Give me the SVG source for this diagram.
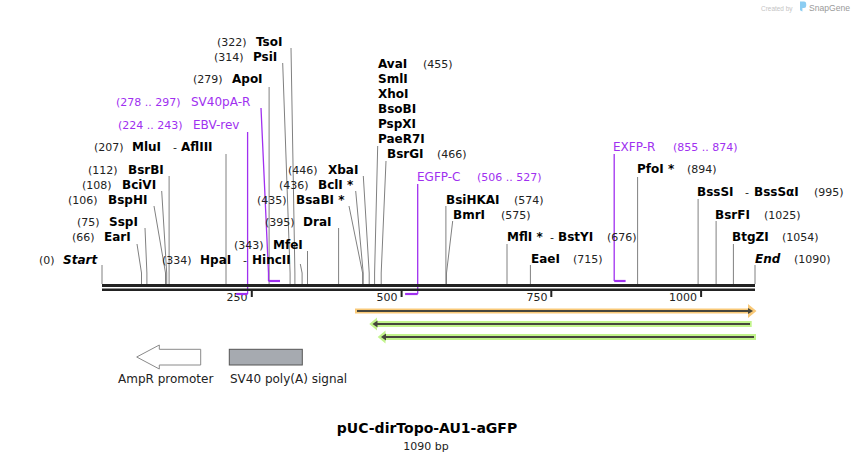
<svg xmlns="http://www.w3.org/2000/svg" width="858" height="460" viewBox="0 0 858 460">
<style>
text { font-family: "DejaVu Sans", Verdana, sans-serif; }
.n { font-size: 11px; fill: #222; font-weight: normal; }
.lg { font-size: 12px; fill: #222; }
.e { font-size: 12px; fill: #000; font-weight: bold; }
.i { font-size: 12px; fill: #000; font-weight: bold; font-style: italic; }
.p { font-size: 12px; fill: #A030F0; }
.pn { font-size: 11px; fill: #A030F0; }
.ln { fill: none; stroke: #808080; stroke-width: 1; }
.pl { fill: none; stroke: #A030F0; stroke-width: 1.3; }
.pb { fill: none; stroke: #A030F0; stroke-width: 2.2; }
.rul { fill: #222; }
.tk { font-size: 11px; fill: #222; text-anchor: end; }
.dk { fill: #46463c; }
</style>
<rect width="858" height="460" fill="#fff"/>

<g id="credit">
<text x="761" y="10.5" font-size="7.5" fill="#c4c4c4" textLength="31.5" lengthAdjust="spacingAndGlyphs" style="font-family:'Liberation Sans',Arial,sans-serif">Created by</text>
<path d="M800,1.5 h4 a2.2,2.2 0 0 1 2.2,2.2 v2 a2.2,2.2 0 0 1 -2.2,2.2 h-1.6 v3.6 l-2.4,-1.2 z" fill="#8ccdf2"/>
<text x="809" y="10.5" font-size="9" fill="#9a9a9a" textLength="41" lengthAdjust="spacingAndGlyphs" style="font-family:'Liberation Sans',Arial,sans-serif">SnapGene</text>
</g>

<g id="connectors">
<polyline class="ln" points="291,48 294.9,273 294.9,284"/>
<polyline class="ln" points="282.7,63 290.1,273 290.1,284"/>
<polyline class="ln" points="269.1,87 269.1,284"/>
<polyline class="ln" points="226,154 226,284"/>
<polyline class="ln" points="169.1,176 169.1,284"/>
<polyline class="ln" points="161.7,191 166.7,273 166.7,284"/>
<polyline class="ln" points="154,206 165.5,273 165.5,284"/>
<polyline class="ln" points="145,228 146.9,273 146.9,284"/>
<polyline class="ln" points="137,244 141.5,273 141.5,284"/>
<polyline class="ln" points="102,265 102,284"/>
<polyline class="ln" points="300.3,264 302.1,273 302.1,284"/>
<polyline class="ln" points="307.5,251 307.5,284"/>
<polyline class="ln" points="338.6,228 338.6,284"/>
<polyline class="ln" points="349,206 362.6,273 362.6,284"/>
<polyline class="ln" points="355.7,191 363.2,273 363.2,284"/>
<polyline class="ln" points="363.3,176 369.2,273 369.2,284"/>
<polyline class="ln" points="377.7,146 374.6,273 374.6,284"/>
<polyline class="ln" points="386,161 381.2,273 381.2,284"/>
<polyline class="ln" points="445.9,206 445.9,284"/>
<polyline class="ln" points="452.7,221 446.5,273 446.5,284"/>
<polyline class="ln" points="507,244 507,284"/>
<polyline class="ln" points="530.4,265 530.4,284"/>
<polyline class="ln" points="637.6,177 637.6,284"/>
<polyline class="ln" points="698.1,199 698.1,284"/>
<polyline class="ln" points="716.1,221 716.1,284"/>
<polyline class="ln" points="733.4,244 733.4,284"/>
<polyline class="ln" points="755,265 755,284"/>
<polyline class="pl" points="261,108 268.5,273 268.5,281"/>
<polyline class="pb" points="268.5,281 280,281"/>
<polyline class="pl" points="247.6,132 247.6,294"/>
<polyline class="pl" points="417.7,184 417.7,294"/>
<polyline class="pl" points="614.2,154 614.2,281"/>
<polyline class="pb" points="614.2,281 625.6,281"/>
</g>

<g id="ruler">
<rect class="rul" x="102" y="284" width="653" height="3"/>
<rect class="rul" x="102" y="288.5" width="653" height="2.5"/>
<rect class="rul" x="250.8" y="291" width="2" height="6"/>
<rect class="rul" x="400.6" y="291" width="2" height="6"/>
<rect class="rul" x="550.3" y="291" width="2" height="6"/>
<rect class="rul" x="700.1" y="291" width="2" height="6"/>
<text class="tk" x="247.5" y="300.5">250</text>
<text class="tk" x="397.5" y="300.5">500</text>
<text class="tk" x="547.5" y="300.5">750</text>
<text class="tk" x="697" y="300.5">1000</text>
</g>
<g id="primer-brackets">
<polyline class="pb" points="247.6,294 236.2,294"/>
<polyline class="pb" points="417.7,294 405.1,294"/>
</g>

<g id="site-TsoI"><text y="46"><tspan class="n" x="217">(322)</tspan><tspan class="e" x="256">TsoI</tspan></text></g>
<g id="site-PsiI"><text y="61"><tspan class="n" x="214">(314)</tspan><tspan class="e" x="253">PsiI</tspan></text></g>
<g id="site-ApoI"><text y="83"><tspan class="n" x="193">(279)</tspan><tspan class="e" x="232">ApoI</tspan></text></g>
<g id="primer-SV40pA-R"><text y="106"><tspan class="pn" x="116">(278 .. 297)</tspan><tspan class="p" x="191">SV40pA-R</tspan></text></g>
<g id="primer-EBV-rev"><text y="129"><tspan class="pn" x="118">(224 .. 243)</tspan><tspan class="p" x="193">EBV-rev</tspan></text></g>
<g id="site-MluI"><text y="151"><tspan class="n" x="94">(207)</tspan><tspan class="e" x="132">MluI</tspan><tspan class="n" x="173">-</tspan><tspan class="e" x="181">AflIII</tspan></text></g>
<g id="site-BsrBI"><text y="174"><tspan class="n" x="88">(112)</tspan><tspan class="e" x="128">BsrBI</tspan></text></g>
<g id="site-BciVI"><text y="189"><tspan class="n" x="82">(108)</tspan><tspan class="e" x="122">BciVI</tspan></text></g>
<g id="site-BspHI"><text y="204"><tspan class="n" x="68">(106)</tspan><tspan class="e" x="108">BspHI</tspan></text></g>
<g id="site-SspI"><text y="226"><tspan class="n" x="77">(75)</tspan><tspan class="e" x="109">SspI</tspan></text></g>
<g id="site-EarI"><text y="241"><tspan class="n" x="72">(66)</tspan><tspan class="e" x="104">EarI</tspan></text></g>
<g id="site-Start"><text y="264"><tspan class="n" x="39">(0)</tspan><tspan class="i" x="63">Start</tspan></text></g>
<g id="site-HpaI"><text y="264"><tspan class="n" x="162">(334)</tspan><tspan class="e" x="200">HpaI</tspan><tspan class="n" x="243">-</tspan><tspan class="e" x="252">HincII</tspan></text></g>
<g id="site-MfeI"><text y="249"><tspan class="n" x="234">(343)</tspan><tspan class="e" x="273">MfeI</tspan></text></g>
<g id="site-DraI"><text y="226"><tspan class="n" x="265">(395)</tspan><tspan class="e" x="303">DraI</tspan></text></g>
<g id="site-BsaBI"><text y="204"><tspan class="n" x="257">(435)</tspan><tspan class="e" x="296">BsaBI *</tspan></text></g>
<g id="site-BclI"><text y="189"><tspan class="n" x="279">(436)</tspan><tspan class="e" x="318">BclI *</tspan></text></g>
<g id="site-XbaI"><text y="174"><tspan class="n" x="288">(446)</tspan><tspan class="e" x="328">XbaI</tspan></text></g>
<g id="site-AvaI">
<text y="68"><tspan class="e" x="378">AvaI</tspan><tspan class="n" x="423">(455)</tspan></text>
<text class="e" x="378" y="83">SmlI</text>
<text class="e" x="378" y="98">XhoI</text>
<text class="e" x="378" y="113">BsoBI</text>
<text class="e" x="378" y="128">PspXI</text>
<text class="e" x="378" y="143">PaeR7I</text>
</g>
<g id="site-BsrGI"><text y="158"><tspan class="e" x="387">BsrGI</tspan><tspan class="n" x="437">(466)</tspan></text></g>
<g id="primer-EGFP-C"><text y="181"><tspan class="p" x="417">EGFP-C</tspan><tspan class="pn" x="477">(506 .. 527)</tspan></text></g>
<g id="site-BsiHKAI"><text y="204"><tspan class="e" x="446">BsiHKAI</tspan><tspan class="n" x="514">(574)</tspan></text></g>
<g id="site-BmrI"><text y="219"><tspan class="e" x="453">BmrI</tspan><tspan class="n" x="501">(575)</tspan></text></g>
<g id="site-MflI"><text y="241"><tspan class="e" x="507">MflI *</tspan><tspan class="n" x="550">-</tspan><tspan class="e" x="558">BstYI</tspan><tspan class="n" x="607">(676)</tspan></text></g>
<g id="site-EaeI"><text y="263"><tspan class="e" x="531">EaeI</tspan><tspan class="n" x="573">(715)</tspan></text></g>
<g id="primer-EXFP-R"><text y="151"><tspan class="p" x="613">EXFP-R</tspan><tspan class="pn" x="673">(855 .. 874)</tspan></text></g>
<g id="site-PfoI"><text y="173"><tspan class="e" x="637">PfoI *</tspan><tspan class="n" x="687">(894)</tspan></text></g>
<g id="site-BssSI"><text y="196"><tspan class="e" x="697">BssSI</tspan><tspan class="n" x="745">-</tspan><tspan class="e" x="754">BssSαI</tspan><tspan class="n" x="814">(995)</tspan></text></g>
<g id="site-BsrFI"><text y="219"><tspan class="e" x="715">BsrFI</tspan><tspan class="n" x="764">(1025)</tspan></text></g>
<g id="site-BtgZI"><text y="241"><tspan class="e" x="732">BtgZI</tspan><tspan class="n" x="782">(1054)</tspan></text></g>
<g id="site-End"><text y="263"><tspan class="i" x="755">End</tspan><tspan class="n" x="794">(1090)</tspan></text></g>

<g id="feature-orange">
<path d="M355,308.5 H748 V304 L756.5,311 L748,318 V313.5 H355 Z" fill="#F9C978"/>
<rect class="dk" x="357" y="310" width="392" height="2"/>
<path class="dk" d="M748,308 L753,311 L748,314 Z"/>
</g>
<g id="feature-green-1">
<path d="M369.3,324 L377,317.5 V321 H751.7 V327 H377 V330.5 Z" fill="#C2F48C"/>
<rect class="dk" x="376" y="323" width="374" height="2"/>
<path class="dk" d="M372.5,324 L377.5,320.5 V327.5 Z"/>
</g>
<g id="feature-green-2">
<path d="M377.7,337 L385.5,330.5 V334 H756 V340 H385.5 V343.5 Z" fill="#C2F48C"/>
<rect class="dk" x="384" y="336" width="370" height="2"/>
<path class="dk" d="M381,337 L386,333.5 V340.5 Z"/>
</g>

<g id="legend-AmpR">
<path d="M136.7,357 L159.3,345 V349.3 H200.7 V365 H159.3 V369 Z" fill="#fff" stroke="#8a8a8a" stroke-width="1"/>
<text class="lg" x="118" y="383">AmpR promoter</text>
</g>
<g id="legend-SV40">
<rect x="229.3" y="349.3" width="73" height="15.7" fill="#A6AAB0" stroke="#555" stroke-width="1"/>
<text class="lg" x="230" y="383">SV40 poly(A) signal</text>
</g>

<g id="title">
<text x="427" y="433" text-anchor="middle" font-size="14" font-weight="bold" fill="#000">pUC-dirTopo-AU1-aGFP</text>
<text x="426" y="450" text-anchor="middle" font-size="11" fill="#222">1090 bp</text>
</g>
</svg>
